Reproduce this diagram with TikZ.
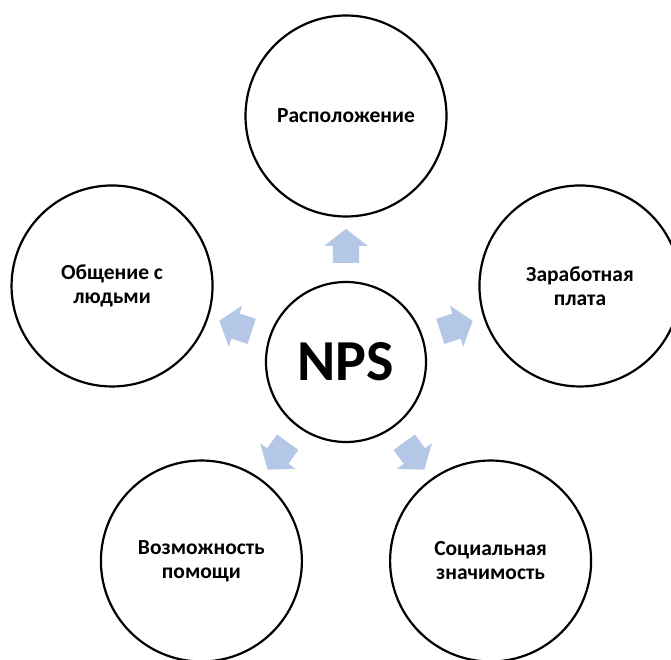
\documentclass[tikz,border=0pt]{standalone}
\usepackage{fontspec}
\setmainfont{Carlito}
\usetikzlibrary{shapes,arrows,positioning,calc}
\definecolor{lightblue}{RGB}{180,199,231}
\tikzstyle{factor} = [circle, draw=black, line width=2.2pt, fill=white, text=black, align=center, font=\bfseries\fontsize{21.5}{24}\selectfont, minimum size=201pt, inner sep=0pt]
\tikzstyle{core} = [circle, draw=black, line width=2.2pt, fill=white, text=black, font=\bfseries\fontsize{58}{62}\selectfont, minimum size=160pt, inner sep=0pt]
\tikzstyle{flow} = [single arrow, fill=lightblue, draw=none, minimum height=34pt, inner xsep=0pt, inner ysep=13pt, single arrow head extend=8.5pt, single arrow tip angle=104]

\begin{document}
\begin{tikzpicture}[x=1pt,y=1pt]
\useasboundingbox (0,0) rectangle (671,659);
\clip (0,0) rectangle (671,659);

% centre =============================
\node[core] (nps) at (346,297) {NPS};

% factors
\node[factor] (loc) at ($(nps)+(90:246pt)$) {Расположение};
\node[factor] (pay) at ($(nps)+(18:246pt)$) {Заработная\\плата};
\node[factor] (soc) at ($(nps)+(-54:246pt)$) {Социальная\\значимость};
\node[factor] (help) at ($(nps)+(-126:246pt)$) {Возможность\\помощи};
\node[factor] (talk) at ($(nps)+(162:246pt)$) {Общение с\\людьми};

% arrows centre to factors
\node[flow, rotate=90] (a1) at ($(nps)+(90:111pt)$) {};
\node[flow, rotate=18] (a2) at ($(nps)+(18:111pt)$) {};
\node[flow, rotate=-54] (a3) at ($(nps)+(-54:111pt)$) {};
\node[flow, rotate=-126] (a4) at ($(nps)+(-126:111pt)$) {};
\node[flow, rotate=162] (a5) at ($(nps)+(162:111pt)$) {};

\end{tikzpicture}
\end{document}
